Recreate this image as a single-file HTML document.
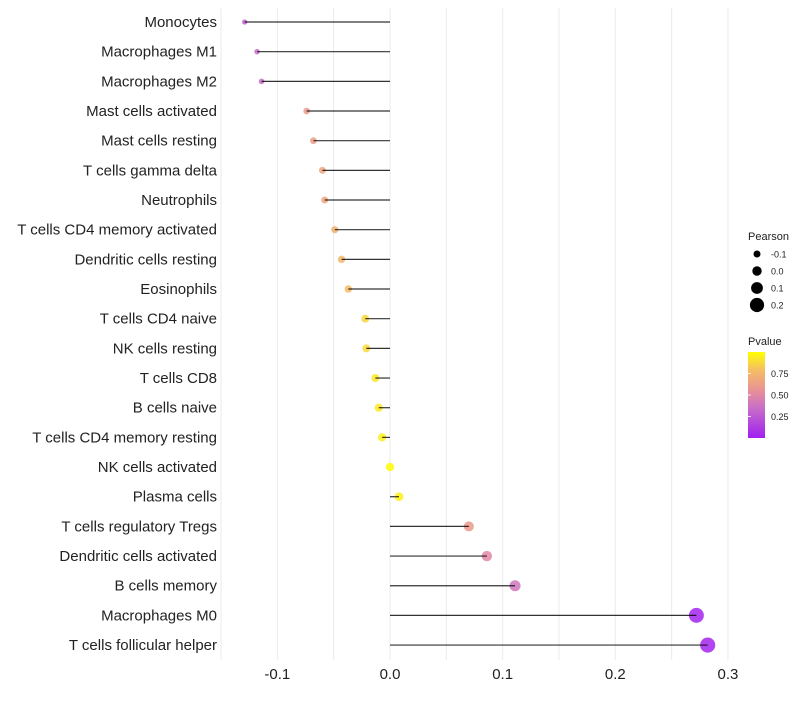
<!DOCTYPE html>
<html><head><meta charset="utf-8"><style>
body{margin:0;background:#fff;font-family:"Liberation Sans",sans-serif}
</style></head><body>
<svg id="chart" width="800" height="700" xmlns="http://www.w3.org/2000/svg" font-family="Liberation Sans, sans-serif"></svg>
<script>
const categories=["Monocytes","Macrophages M1","Macrophages M2","Mast cells activated","Mast cells resting","T cells gamma delta","Neutrophils","T cells CD4 memory activated","Dendritic cells resting","Eosinophils","T cells CD4 naive","NK cells resting","T cells CD8","B cells naive","T cells CD4 memory resting","NK cells activated","Plasma cells","T cells regulatory  Tregs ","Dendritic cells activated","B cells memory","Macrophages M0","T cells follicular helper"];
const pearson=[-0.129,-0.118,-0.114,-0.074,-0.068,-0.060,-0.058,-0.049,-0.043,-0.037,-0.022,-0.021,-0.013,-0.010,-0.007,0.000,0.008,0.070,0.086,0.111,0.272,0.282];
const pvalue=[0.30,0.35,0.35,0.60,0.62,0.66,0.68,0.72,0.75,0.78,0.87,0.88,0.92,0.93,0.95,0.99,0.96,0.60,0.50,0.40,0.02,0.02];
const xTicks=[-0.1,0,0.1,0.2,0.3];
const xTickLabels=["-0.1","0.0","0.1","0.2","0.3"];
const sizeLegend=[-0.1,0,0.1,0.2];
const sizeLegendLabels=["-0.1","0.0","0.1","0.2"];
const colorTicks=[0.25,0.5,0.75];
const colorTickLabels=["0.25","0.50","0.75"];

const svg=document.getElementById('chart');
const NS="http://www.w3.org/2000/svg";
const x=v=>390+v*1126.5;
const y=i=>22+i*29.67;
const r=v=>Math.max(1.8,4.2+v*12);
const stops=[[0,[160,32,240]],[0.35,[200,110,200]],[0.55,[232,144,152]],[0.8,[245,192,96]],[1,[255,255,0]]];
function col(p){for(let k=1;k<stops.length;k++){if(p<=stops[k][0]){const a=stops[k-1],b=stops[k],t=(p-a[0])/(b[0]-a[0]);return 'rgb('+a[1].map((c,j)=>Math.round(c+(b[1][j]-c)*t)).join(',')+')';}}return 'rgb(255,255,0)';}
function mk(tag,attrs,text){const e=document.createElementNS(NS,tag);for(const k in attrs)e.setAttribute(k,attrs[k]);if(text!==undefined)e.textContent=text;svg.appendChild(e);return e;}

for(let v=-0.15;v<=0.301;v+=0.05){const g=mk('line',{x1:x(v),x2:x(v),y1:8,y2:660,stroke:'#ebebeb','stroke-width':1});

}
xTicks.forEach((v,i)=>{const t=mk('text',{x:x(v),y:679,'text-anchor':'middle','font-size':15,fill:'#222'},xTickLabels[i]);

});

categories.forEach((c,i)=>{
const yy=y(i);
const lab=mk('text',{x:217,y:yy+5,'text-anchor':'end','font-size':15,fill:'#222'},c);


const d=mk('circle',{cx:x(pearson[i]),cy:yy,r:r(pearson[i]),fill:col(pvalue[i]),'fill-opacity':0.85});


const l=mk('line',{x1:x(0),x2:x(pearson[i]),y1:yy,y2:yy,stroke:'#000','stroke-width':1.2,'stroke-opacity':0.8});


});

const lt=mk('text',{x:748,y:240,'font-size':11,fill:'#222'},'Pearson');


sizeLegend.forEach((v,i)=>{const cy=254+i*17;
const c=mk('circle',{cx:757,cy:cy,r:r(v)+0.5,fill:'#000'});


const t=mk('text',{x:771,y:cy+3.5,'font-size':9,fill:'#222'},sizeLegendLabels[i]);

});
const pt=mk('text',{x:748,y:345,'font-size':11,fill:'#222'},'Pvalue');


const defs=mk('defs',{});
const lg=document.createElementNS(NS,'linearGradient');lg.setAttribute('id','pg');lg.setAttribute('x1','0');lg.setAttribute('y1','1');lg.setAttribute('x2','0');lg.setAttribute('y2','0');
stops.forEach(s=>{const st=document.createElementNS(NS,'stop');st.setAttribute('offset',s[0]);st.setAttribute('stop-color','rgb('+s[1].join(',')+')');lg.appendChild(st);});
defs.appendChild(lg);
const cb=mk('rect',{x:748,y:352,width:17,height:86,fill:'url(#pg)'});


const cy=v=>438-v*86;
colorTicks.forEach((v,i)=>{
const tk=mk('line',{x1:748,x2:751,y1:cy(v),y2:cy(v),stroke:'#fff','stroke-width':0.8});


const t=mk('text',{x:771,y:cy(v)+3.5,'font-size':9,fill:'#222'},colorTickLabels[i]);

});
</script>
</body></html>
